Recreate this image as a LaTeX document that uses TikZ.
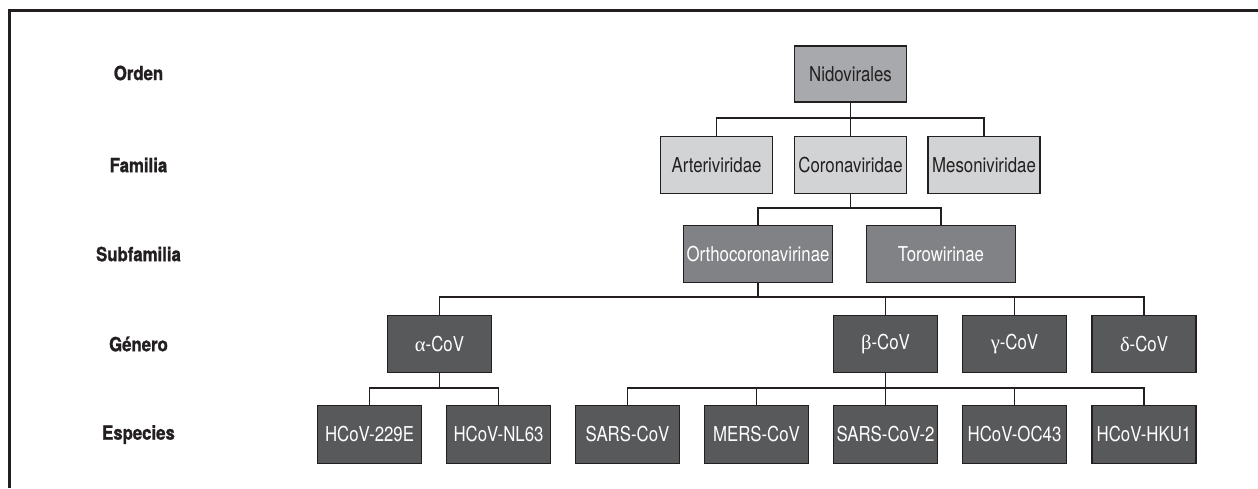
\documentclass[tikz,border=0pt]{standalone}
\usepackage{fontspec}
\setmainfont{TeX Gyre Heros}[FakeStretch=0.82]
\newfontfamily\rankfont{TeX Gyre Heros}[FakeStretch=0.86, BoldFeatures={FakeBold=1.2}]
\newfontfamily\grk{Liberation Serif}
\definecolor{ink}{HTML}{231F20}
\definecolor{gA}{HTML}{A7A9AC}
\definecolor{gB}{HTML}{D1D3D4}
\definecolor{gC}{HTML}{808285}
\definecolor{gD}{HTML}{58595B}
\tikzset{
  box/.style={draw=ink, line width=1.4pt, minimum height=57.5pt, inner sep=0pt, font=\fontsize{20.5}{22}\selectfont},
  famw/.style={box, minimum width=112pt},
  subw/.style={box, minimum width=149pt},
  genw/.style={box, minimum width=104pt},
  lvl1/.style={fill=gA, text=ink},
  lvl2/.style={fill=gB, text=ink},
  lvl3/.style={fill=gC, text=white},
  lvl4/.style={fill=gD, text=white},
  rank/.style={font=\rankfont\fontsize{19.5}{21}\bfseries\selectfont, text=ink},
  conn/.style={draw=ink, line width=1.2pt},
  frame/.style={draw=ink, line width=3pt}
}
\begin{document}
\begin{tikzpicture}[x=1pt,y=-1pt]
\useasboundingbox (0,0) rectangle (1258,488);
\fill[white] (0,0) rectangle (1258,488);
\draw[frame] (1258,10.3) -- (9.7,10.3) -- (9.7,488);

% rank labels
\node[rank] (rOrden) at (138.5,73) {Orden};
\node[rank] (rFam) at (138.5,165) {Familia};
\node[rank] (rSub) at (138.5,254) {Subfamilia};
\node[rank] (rGen) at (138.5,344) {Género};
\node[rank] (rEsp) at (138.5,434.5) {Especies};

% nodes
\node[famw,lvl1,minimum height=56pt] (nido) at (850.5,74) {Nidovirales};
\node[famw,lvl2] (arteri) at (716.5,165) {Arteriviridae};
\node[famw,lvl2] (corona) at (850.5,165) {Coronaviridae};
\node[famw,lvl2] (meso) at (984,165) {Mesoniviridae};
\node[subw,lvl3] (ortho) at (758,254) {Orthocoronavirinae};
\node[subw,lvl3] (toro) at (941,254) {Torowirinae};
\node[genw,lvl4] (alpha) at (439.5,344) {{\grk α}-CoV};
\node[genw,lvl4] (beta) at (885.5,344) {{\grk β}-CoV};
\node[genw,lvl4] (gamma) at (1014.5,344) {{\grk γ}-CoV};
\node[genw,lvl4] (delta) at (1144,344) {{\grk δ}-CoV};
\node[genw,lvl4] (s229) at (369.5,434.5) {HCoV-229E};
\node[genw,lvl4] (nl63) at (498.5,434.5) {HCoV-NL63};
\node[genw,lvl4] (sars) at (627.5,434.5) {SARS-CoV};
\node[genw,lvl4] (mers) at (756.5,434.5) {MERS-CoV};
\node[genw,lvl4] (sars2) at (885.5,434.5) {SARS-CoV-2};
\node[genw,lvl4] (oc43) at (1014.5,434.5) {HCoV-OC43};
\node[genw,lvl4] (hku1) at (1144,434.5) {HCoV-HKU1};

% bar levels
\coordinate (b1) at (0,118);
\coordinate (b2) at (0,208);
\coordinate (b3) at (0,297);
\coordinate (b4) at (0,388);

% connectors
\foreach \c in {arteri,corona,meso}
  \draw[conn] (nido.south) -- (nido.south |- b1) -| (\c.north);
\foreach \c in {ortho,toro}
  \draw[conn] (corona.south) -- (corona.south |- b2) -| (\c.north);
\foreach \c in {alpha,beta,gamma,delta}
  \draw[conn] (ortho.south) -- (ortho.south |- b3) -| (\c.north);
\foreach \c in {s229,nl63}
  \draw[conn] (alpha.south) -- (alpha.south |- b4) -| (\c.north);
\foreach \c in {sars,mers,sars2,oc43,hku1}
  \draw[conn] (beta.south) -- (beta.south |- b4) -| (\c.north);
\end{tikzpicture}
\end{document}
